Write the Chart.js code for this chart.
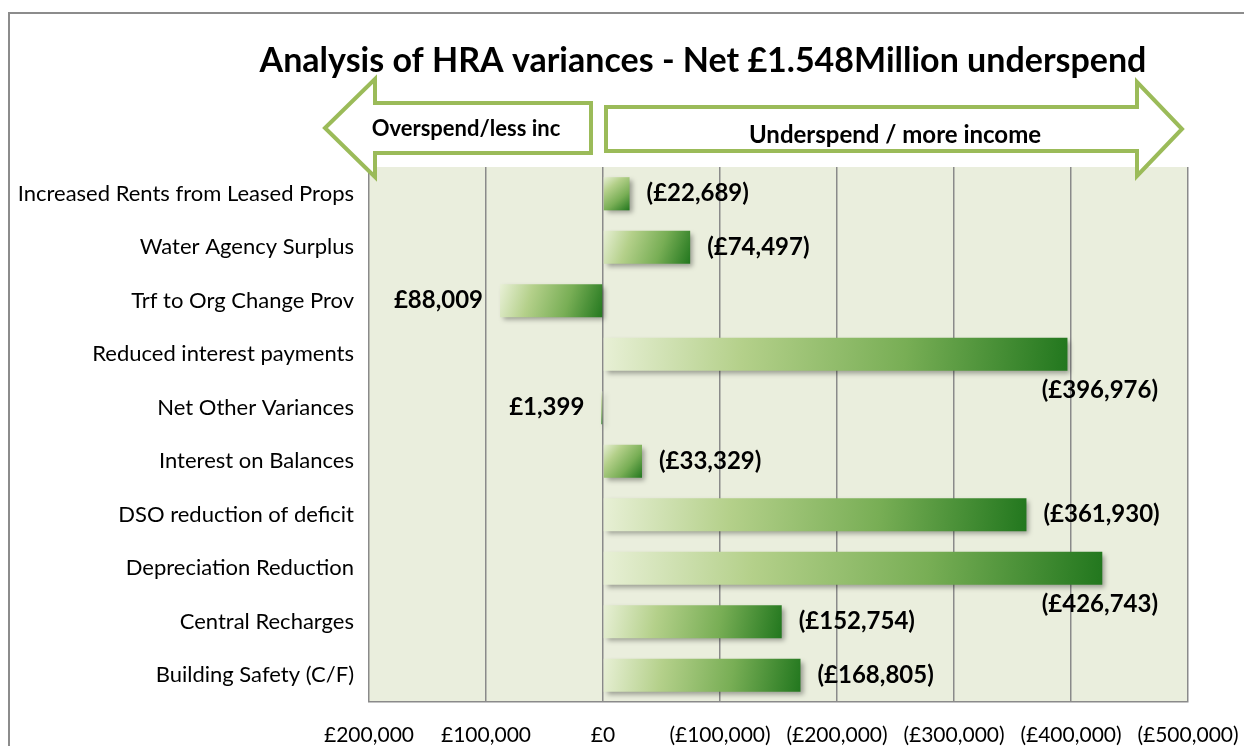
<!DOCTYPE html>
<html>
<head>
<meta charset="utf-8">
<script src="https://cdn.jsdelivr.net/npm/chart.js@4.4.1/dist/chart.umd.min.js"></script>
<style>
  html, body { margin: 0; padding: 0; background: #fff; }
  #wrap { position: relative; width: 1244px; height: 746px; }
</style>
</head>
<body>
<div id="wrap"><canvas id="hra-chart"></canvas></div>
<script>
// ---- data ----
const chartTitle = "Analysis of HRA variances - Net £1.548Million underspend";
const leftArrowText = "Overspend/less inc";
const rightArrowText = "Underspend / more income";

const categories = [
  "Increased Rents from Leased Props",
  "Water Agency Surplus",
  "Trf to Org Change Prov",
  "Reduced interest payments",
  "Net Other Variances",
  "Interest on Balances",
  "DSO reduction of deficit",
  "Depreciation Reduction",
  "Central Recharges",
  "Building Safety (C/F)"
];
// negative = underspend / more income (shown in brackets)
const variances = [-22689, -74497, 88009, -396976, 1399, -33329, -361930, -426743, -152754, -168805];

const tickValues = [200000, 100000, 0, -100000, -200000, -300000, -400000, -500000];
const tickLabels = ["£200,000", "£100,000", "£0", "(£100,000)", "(£200,000)", "(£300,000)", "(£400,000)", "(£500,000)"];

// ---- helpers ----
const FONT = "Lato, 'Liberation Sans', sans-serif";
const ARROW_GREEN = "#9bbb59";
const GRID_GREY = "#8a8a8a";

function money(v) {
  const s = "£" + Math.abs(v).toLocaleString("en-GB");
  return v < 0 ? "(" + s + ")" : s;
}

function barGradient(context) {
  const chart = context.chart;
  if (!chart.chartArea || !chart.scales.x) return "#8fbc5a";
  const xs = chart.scales.x;
  const ys = chart.scales.y;
  const v = variances[context.dataIndex];
  const xa = xs.getPixelForValue(0);
  const xb = xs.getPixelForValue(v);
  const left = Math.min(xa, xb), right = Math.max(xa, xb);
  const yc = ys.getPixelForValue(context.dataIndex);
  const half = (ys.height / categories.length) * 0.62 / 2;
  const g = chart.ctx.createLinearGradient(left, yc - half, Math.max(right, left + 1), yc + half);
  g.addColorStop(0, "#e8f0d6");
  g.addColorStop(0.3, "#b4d08a");
  g.addColorStop(0.65, "#78ae55");
  g.addColorStop(1, "#22771e");
  return g;
}

// ---- plugins ----
const plotBackground = {
  id: "plotBackground",
  beforeDraw(chart) {
    const { ctx, chartArea: a } = chart;
    ctx.save();
    ctx.fillStyle = "#fff";
    ctx.fillRect(0, 0, chart.width, chart.height);
    ctx.fillStyle = "#eaeedd";
    ctx.fillRect(a.left, a.top, a.right - a.left, a.bottom - a.top);
    ctx.restore();
  }
};

const barShadow = {
  id: "barShadow",
  beforeDatasetDraw(chart) {
    const ctx = chart.ctx;
    ctx.save();
    ctx.shadowColor = "rgba(0,0,0,0.35)";
    ctx.shadowBlur = 5;
    ctx.shadowOffsetX = 3;
    ctx.shadowOffsetY = 3;
  },
  afterDatasetDraw(chart) {
    chart.ctx.restore();
  }
};

const valueLabels = {
  id: "valueLabels",
  afterDatasetsDraw(chart) {
    const { ctx, chartArea: a } = chart;
    const meta = chart.getDatasetMeta(0);
    ctx.save();
    ctx.font = "bold 24px " + FONT;
    ctx.fillStyle = "#000";
    ctx.textBaseline = "middle";
    meta.data.forEach((el, i) => {
      const v = variances[i];
      const txt = money(v);
      const w = ctx.measureText(txt).width;
      if (v < 0) {
        const x = el.x + 17;
        if (x + w > a.right - 4) {
          ctx.textAlign = "right";
          ctx.fillText(txt, a.right - 30, el.y + 36);
        } else {
          ctx.textAlign = "left";
          ctx.fillText(txt, x, el.y);
        }
      } else {
        ctx.textAlign = "right";
        ctx.fillText(txt, el.x - 17, el.y);
      }
    });
    ctx.restore();
  }
};

function drawShape(ctx, pts) {
  ctx.beginPath();
  ctx.moveTo(pts[0][0], pts[0][1]);
  for (let i = 1; i < pts.length; i++) ctx.lineTo(pts[i][0], pts[i][1]);
  ctx.closePath();
  ctx.fillStyle = "#fff";
  ctx.fill();
  ctx.lineJoin = "miter";
  ctx.lineWidth = 4;
  ctx.strokeStyle = ARROW_GREEN;
  ctx.stroke();
}

const decorations = {
  id: "decorations",
  afterDraw(chart) {
    const ctx = chart.ctx;
    ctx.save();
    // outer chart border
    ctx.strokeStyle = "#8c8c8c";
    ctx.lineWidth = 2;
    ctx.strokeRect(9, 13, 1400, 900);

    // title
    ctx.fillStyle = "#000";
    ctx.font = "bold 34px " + FONT;
    ctx.textAlign = "center";
    ctx.textBaseline = "middle";
    ctx.fillText(chartTitle, 703, 61);

    // arrows
    drawShape(ctx, [[325, 128], [375, 79], [375, 103], [591, 103], [591, 153], [375, 153], [375, 177]]);
    drawShape(ctx, [[606, 107], [1137, 107], [1137, 82], [1182, 129], [1137, 176], [1137, 151], [606, 151]]);

    ctx.fillStyle = "#000";
    ctx.font = "bold 22px " + FONT;
    ctx.fillText(leftArrowText, 466, 129);
    ctx.font = "bold 24px " + FONT;
    ctx.fillText(rightArrowText, 895, 135);
    ctx.restore();
  }
};

// ---- chart ----
new Chart(document.getElementById("hra-chart"), {
  type: "bar",
  data: {
    labels: categories,
    datasets: [{
      data: variances,
      backgroundColor: barGradient,
      borderWidth: 0,
      barPercentage: 0.62,
      categoryPercentage: 1
    }]
  },
  options: {
    indexAxis: "y",
    responsive: true,
    maintainAspectRatio: false,
    animation: false,
    layout: { padding: { top: 167, right: 56, left: 0, bottom: 0 } },
    plugins: {
      legend: { display: false },
      tooltip: { enabled: false },
      title: { display: false }
    },
    scales: {
      x: {
        type: "linear",
        reverse: true,
        min: -500000,
        max: 200000,
        afterBuildTicks: (s) => { s.ticks = tickValues.map((v) => ({ value: v })); },
        afterFit: (s) => { s.height = 44; s.paddingLeft = 0; s.paddingRight = 0; },
        grid: { color: GRID_GREY, lineWidth: 1.5, drawTicks: false },
        border: { display: true, color: GRID_GREY, width: 1.5 },
        ticks: {
          padding: 21,
          color: "#000",
          font: { family: FONT, size: 21 },
          maxRotation: 0,
          autoSkip: false,
          callback: (v) => tickLabels[tickValues.indexOf(v)]
        }
      },
      y: {
        afterFit: (s) => { s.width = 369; s.paddingTop = 0; s.paddingBottom = 0; },
        grid: { display: false, drawTicks: false },
        border: { display: false },
        ticks: {
          padding: 15,
          color: "#000",
          font: { family: FONT, size: 22 }
        }
      }
    }
  },
  plugins: [plotBackground, barShadow, valueLabels, decorations]
});
</script>
</body>
</html>
